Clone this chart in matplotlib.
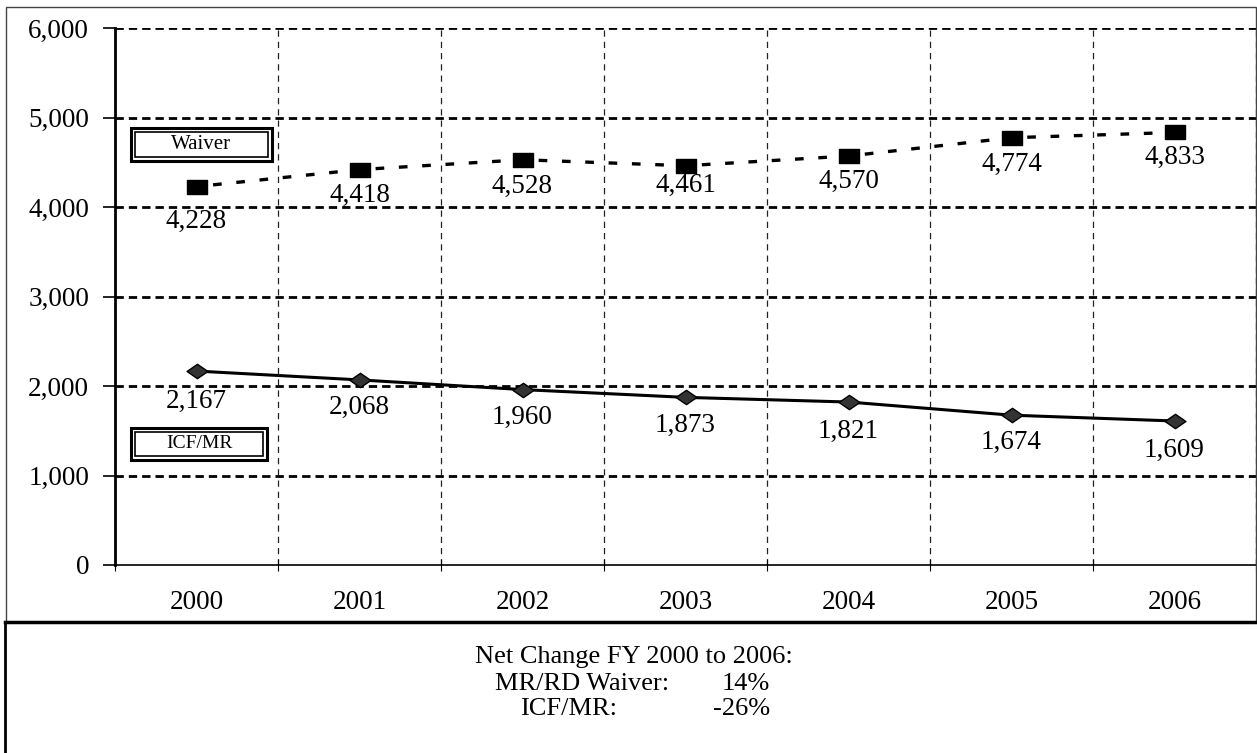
import numpy as np
import matplotlib.pyplot as plt
from matplotlib.patches import Rectangle
from matplotlib.path import Path
from matplotlib.ticker import FuncFormatter, MultipleLocator

plt.rcParams['font.family'] = ['Liberation Serif', 'DejaVu Serif']

years = ['2000', '2001', '2002', '2003', '2004', '2005', '2006']
waiver = [4228, 4418, 4528, 4461, 4570, 4774, 4833]
icf_mr = [2167, 2068, 1960, 1873, 1821, 1674, 1609]

# label offsets below each point (pixels)
waiver_dy = [-35, -26, -27, -20, -25, -27, -25]
icf_dy = [-30, -27, -28, -28, -29, -27, -29]

W, H = 1257, 753
fig = plt.figure(figsize=(W / 100, H / 100), dpi=100)

def fx(px):
    return px / W

def fy(py):
    return 1 - py / H

ax = fig.add_axes([fx(115), fy(565), fx(1256) - fx(115), fy(28) - fy(565)])
x = np.arange(len(years))

rect = Path([(-1.5, -1), (1.5, -1), (1.5, 1), (-1.5, 1), (-1.5, -1)],
            [Path.MOVETO, Path.LINETO, Path.LINETO, Path.LINETO, Path.CLOSEPOLY])
diamond = Path([(-1.45, 0), (0, 1), (1.45, 0), (0, -1), (-1.45, 0)],
               [Path.MOVETO, Path.LINETO, Path.LINETO, Path.LINETO, Path.CLOSEPOLY])

ax.plot(x, waiver, color='black', lw=2.4, linestyle=(2, (2.6, 4.4)),
        marker=rect, markersize=15, markerfacecolor='black',
        markeredgecolor='black', zorder=5)
ax.plot(x, icf_mr, color='black', lw=2.2, linestyle='-',
        marker=diamond, markersize=15, markerfacecolor='#333333',
        markeredgecolor='black', markeredgewidth=1, zorder=5)

FS = 19.5
for xi, v, dy in zip(x, waiver, waiver_dy):
    ax.annotate(f'{v:,}', (xi, v), xytext=(0, dy * 0.72), textcoords='offset points',
                ha='center', va='center', fontsize=FS)
for xi, v, dy in zip(x, icf_mr, icf_dy):
    ax.annotate(f'{v:,}', (xi, v), xytext=(0, dy * 0.72), textcoords='offset points',
                ha='center', va='center', fontsize=FS)

ax.set_xlim(-0.5, len(years) - 0.5)
ax.set_ylim(0, 6000)
ax.set_xticks(x)
ax.set_xticklabels(years, fontsize=FS)
ax.xaxis.set_minor_locator(MultipleLocator(1, offset=0.5))
ax.tick_params(axis='x', which='major', length=0, pad=18)
ax.tick_params(axis='x', which='minor', direction='inout', length=8, width=0.8)
ax.yaxis.set_major_locator(MultipleLocator(1000))
ax.yaxis.set_major_formatter(FuncFormatter(lambda v, p: f'{int(v):,}'))
ax.tick_params(axis='y', length=8.6, width=1.2, pad=10, labelsize=FS)

for v in range(1000, 6001, 1000):
    ax.axhline(v, color='black', lw=2, linestyle=(0, (3, 1.8)), zorder=1)
ax.grid(True, which='minor', axis='x', color='#222222', lw=0.9,
        linestyle=(0, (5, 4)), zorder=1)

for s in ['top', 'right']:
    ax.spines[s].set_visible(False)
ax.spines['left'].set_linewidth(2)
ax.spines['bottom'].set_linewidth(1.2)

# legend-style boxes with double border
def double_box(x0, y0, x1, y1, label, inset, fs):
    fig.patches.append(Rectangle((fx(x0), fy(y1)), fx(x1 - x0), (y1 - y0) / H,
                                 transform=fig.transFigure, fill=False,
                                 edgecolor='black', lw=2.2, zorder=6))
    fig.patches.append(Rectangle((fx(x0 + inset), fy(y1 - inset)),
                                 fx(x1 - x0 - 2 * inset), (y1 - y0 - 2 * inset) / H,
                                 transform=fig.transFigure, fill=False,
                                 edgecolor='black', lw=1.2, zorder=6))
    fig.text(fx((x0 + x1) / 2), fy((y0 + y1) / 2), label, ha='center', va='center',
             fontsize=fs)

double_box(131, 128, 272, 161, 'Waiver', 4, 15)
double_box(131, 428, 267, 460, 'ICF/MR', 4, 14)

# outer frame of chart
fig.patches.append(Rectangle((fx(6), fy(622)), fx(1256 - 6), (622 - 7) / H,
                             transform=fig.transFigure, fill=False,
                             edgecolor='#444444', lw=1))
# summary box
fig.add_artist(plt.Line2D([fx(5), 1], [fy(622), fy(622)], color='black', lw=2.5))
fig.add_artist(plt.Line2D([fx(5), fx(5)], [fy(622), 0], color='black', lw=2))

BS = 19
fig.text(fx(634), fy(657), 'Net Change FY 2000 to 2006:', ha='center', va='center', fontsize=BS)
fig.text(fx(495), fy(684), 'MR/RD Waiver:', ha='left', va='center', fontsize=BS)
fig.text(fx(770), fy(684), '14%', ha='right', va='center', fontsize=BS)
fig.text(fx(520), fy(709), 'ICF/MR:', ha='left', va='center', fontsize=BS)
fig.text(fx(770), fy(709), '-26%', ha='right', va='center', fontsize=BS)

fig.savefig('out.png', dpi=100)
